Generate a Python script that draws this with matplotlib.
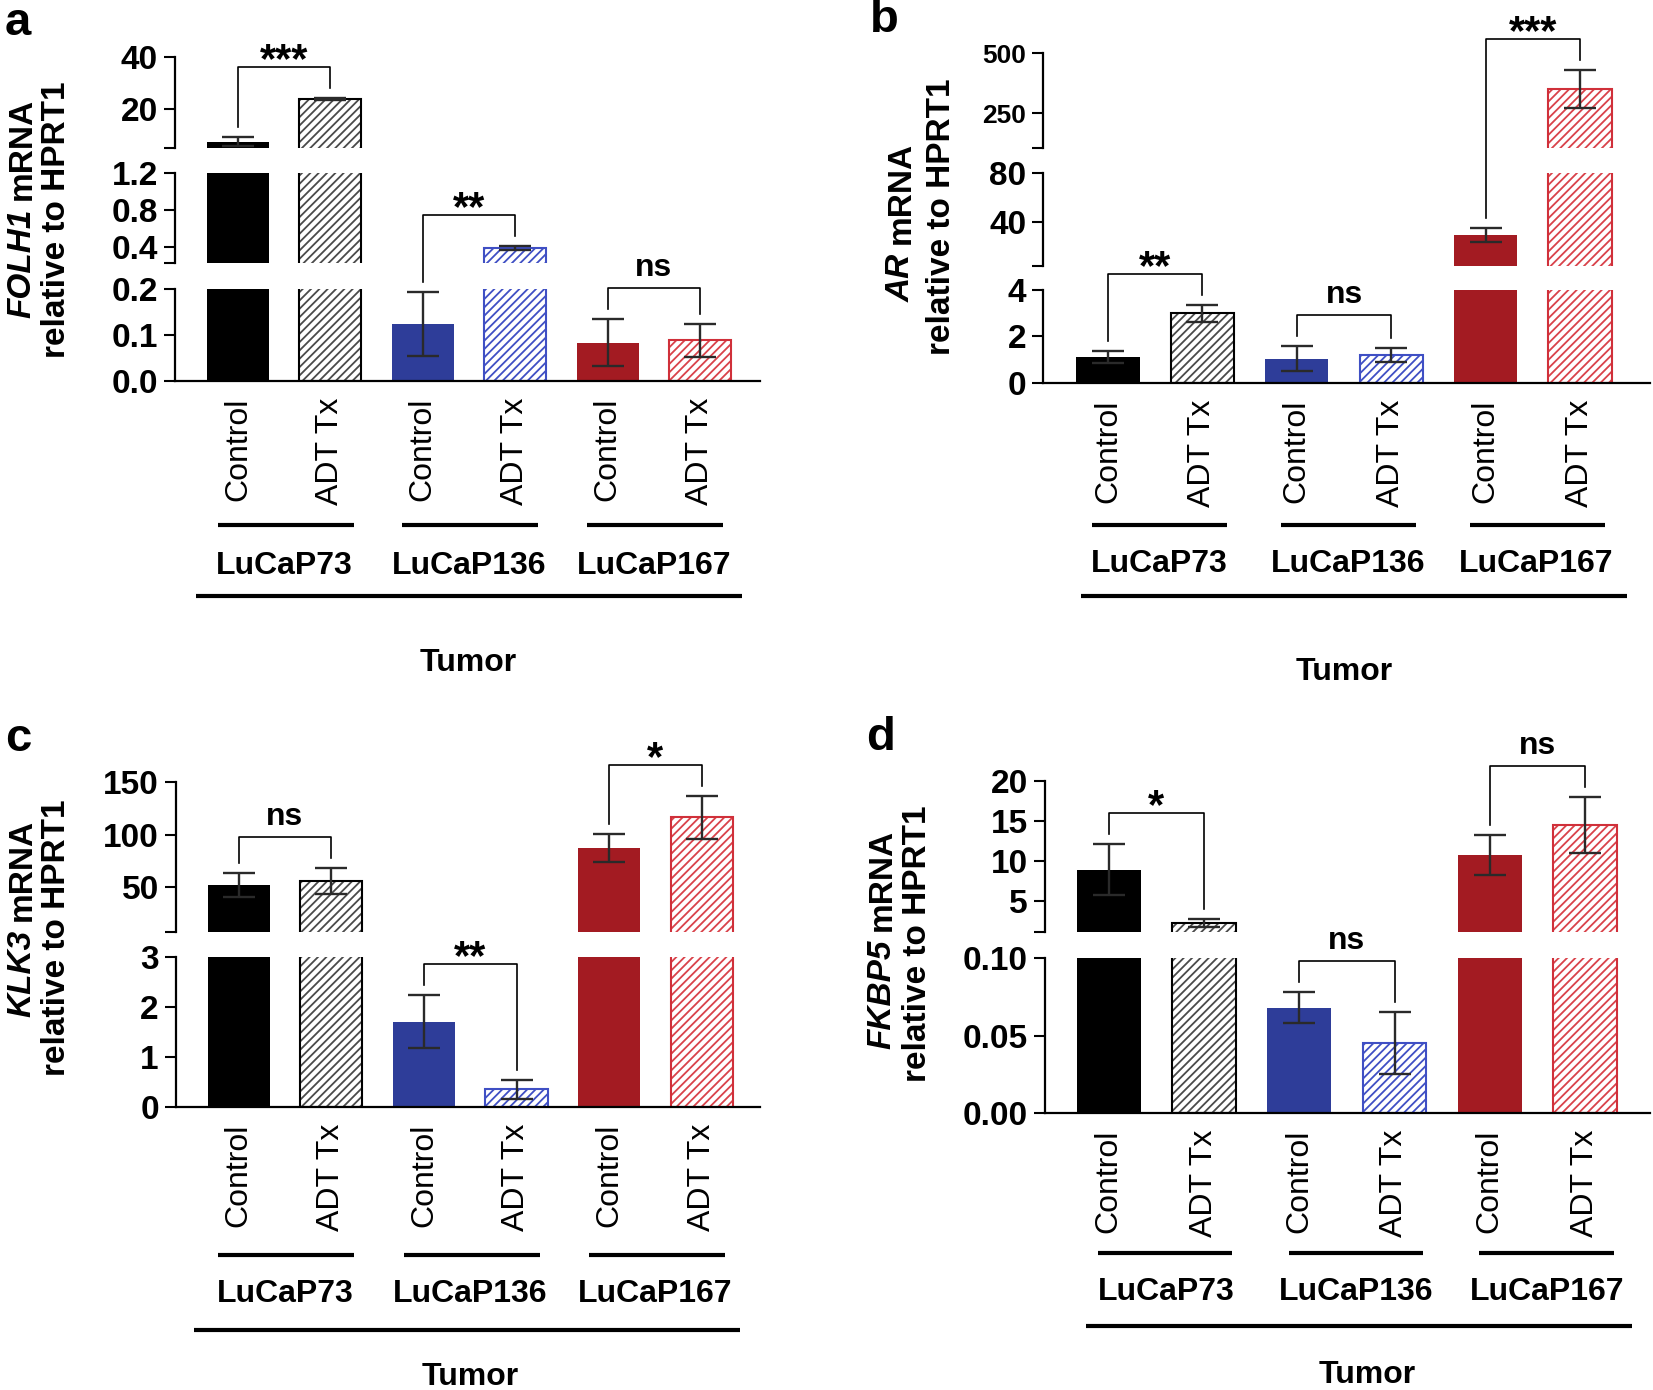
import numpy as np
import matplotlib
matplotlib.use('Agg')
import matplotlib.pyplot as plt
from matplotlib.lines import Line2D
from matplotlib.transforms import ScaledTranslation

plt.rcParams['font.family'] = ['Liberation Sans', 'DejaVu Sans']
plt.rcParams['hatch.linewidth'] = 1.3

# ---- data ----
conditions = ['Control', 'ADT Tx', 'Control', 'ADT Tx', 'Control', 'ADT Tx']
tumors = ['LuCaP73', 'LuCaP136', 'LuCaP167']

folh1_mean = [7.4, 23.9, 0.124, 0.39, 0.083, 0.088]
folh1_err = [1.9, 0.3, 0.07, 0.02, 0.051, 0.036]
folh1_sig = [(0, 1, '***'), (2, 3, '**'), (4, 5, 'ns')]

ar_mean = [1.12, 3.0, 1.03, 1.2, 29.0, 350.0]
ar_err = [0.26, 0.36, 0.54, 0.29, 6.0, 80.0]
ar_sig = [(0, 1, '**'), (2, 3, 'ns'), (4, 5, '***')]

klk3_mean = [51.6, 55.8, 1.71, 0.35, 87.4, 116.5]
klk3_err = [11.2, 12.5, 0.54, 0.19, 13.5, 20.5]
klk3_sig = [(0, 1, 'ns'), (2, 3, '**'), (4, 5, '*')]

fkbp5_mean = [8.9, 2.3, 0.068, 0.045, 10.7, 14.5]
fkbp5_err = [3.2, 0.5, 0.01, 0.02, 2.5, 3.5]
fkbp5_sig = [(0, 1, '*'), (2, 3, 'ns'), (4, 5, 'ns')]

# ---- style ----
solid = ['#000000', '#000000', '#2e3d99', '#2e3d99', '#a31b22', '#a31b22']
hatch_col = [None, '#4a4a4a', None, '#3f4fc4', None, '#d9424a']
edge_col = [None, '#000000', None, '#3f4fc4', None, '#d0303a']
BW = 0.67

W, H = 1653, 1390
fig = plt.figure(figsize=(W / 100, H / 100), dpi=100)


def rect(x0, x1, top, bot):
    return [x0 / W, 1 - bot / H, (x1 - x0) / W, (bot - top) / H]


def below(ax, dy):
    return ax.get_xaxis_transform() + ScaledTranslation(0, -dy / 100, fig.dpi_scale_trans)


def panel(means, errs, sig, segs, xlay, deco, letter, gene, ylab):
    c0, s, axx, right = xlay
    xlo, xhi = (axx - c0) / s, (right - c0) / s
    x = np.arange(6)
    axes = []
    for k, (top, bot, ymin, ymax, tks, tls, fs) in enumerate(segs):
        ax = fig.add_axes(rect(axx, right, top, bot))
        ax.set_xlim(xlo, xhi)
        ax.set_ylim(ymin, ymax)
        for i in range(6):
            if hatch_col[i] is None:
                ax.bar(x[i], means[i], width=BW, color=solid[i], linewidth=0)
            else:
                ax.bar(x[i], means[i], width=BW, color='white', edgecolor=hatch_col[i],
                       hatch='////', linewidth=0)
                if means[i] >= ymin:
                    ax.bar(x[i], means[i], width=BW, fill=False, edgecolor=edge_col[i],
                           linewidth=1.5)
            # error bar only in the segment holding the bar top
            if ymin <= means[i] <= ymax:
                ax.errorbar(x[i], means[i], yerr=errs[i], color='#2a2a2a', capsize=11.5,
                            elinewidth=1.7, capthick=1.7)
        ax.set_yticks(tks)
        ax.set_yticklabels(tls, fontsize=fs, fontweight='bold')
        ax.tick_params(axis='y', length=8, width=1.5, pad=4)
        ax.spines[['top', 'right']].set_visible(False)
        ax.spines['left'].set_linewidth(1.6)
        if k < len(segs) - 1:
            ax.spines['bottom'].set_visible(False)
            ax.set_xticks([])
        else:
            ax.spines['bottom'].set_linewidth(1.6)
            ax.set_xticks(x)
            ax.set_xticklabels(conditions, rotation=90, fontsize=23)
            ax.tick_params(axis='x', length=0, pad=12)
        axes.append(ax)

    ax = axes[-1]
    lo, hi, shift, line_dy, lab_dy, t_lo, t_hi, t_x, tline_dy, ttext_dy = deco
    for k in range(3):
        ax.plot([2 * k + lo, 2 * k + 1 + hi], [0, 0], transform=below(ax, line_dy),
                color='k', lw=3, clip_on=False, solid_capstyle='butt')
        ax.text(2 * k + 0.5 + shift, 0, tumors[k], transform=below(ax, lab_dy),
                ha='center', va='center', fontsize=23, fontweight='bold')
    ax.plot([t_lo, t_hi], [0, 0], transform=below(ax, tline_dy), color='k', lw=3,
            clip_on=False, solid_capstyle='butt')
    ax.text(t_x, 0, 'Tumor', transform=below(ax, ttext_dy), ha='center', va='center',
            fontsize=23, fontweight='bold')

    # significance brackets
    def top_px(k):
        v = means[k] + errs[k]
        a = axes[0]
        for a2, sg in zip(axes[::-1], segs[::-1]):
            if v <= sg[3]:
                a = a2
                break
        return a.transData.transform((k, v))

    inv = fig.transFigure.inverted()
    for i, j, txt in sig:
        pl, pr = top_px(i), top_px(j)
        yl, yr = pl[1] + 10, pr[1] + 10
        ytop = max(yl, yr) + 21
        pts = inv.transform([(pl[0], yl), (pl[0], ytop), (pr[0], ytop), (pr[0], yr)])
        fig.add_artist(Line2D(pts[:, 0], pts[:, 1], transform=fig.transFigure, color='k', lw=1.2))
        star = '*' in txt
        fig.text((pl[0] + pr[0]) / 2 / W, (ytop + (-5 if star else 12)) / H, txt,
                 ha='center', va='baseline', fontsize=30 if star else 23, fontweight='bold')

    # panel letter
    fig.text(letter[1] / W, 1 - letter[2] / H, letter[0], ha='center', va='center',
             fontsize=34, fontweight='bold')

    # y label: italic gene name + mRNA, second line
    x1, yc1, x2, yc2 = ylab
    fig.text(x2 / W, 1 - yc2 / H, 'relative to HPRT1', rotation=90, ha='center', va='center',
             fontsize=24, fontweight='bold')
    r = fig.canvas.get_renderer()
    t1 = fig.text(0, 0, gene, rotation=90, rotation_mode='anchor', ha='left', va='center',
                  fontsize=24, fontweight='bold', style='italic')
    t2 = fig.text(0, 0, 'mRNA', rotation=90, rotation_mode='anchor', ha='left', va='center',
                  fontsize=24, fontweight='bold')
    h1 = t1.get_window_extent(r).height
    h2 = t2.get_window_extent(r).height
    gap = 9
    y0 = (H - yc1) - (h1 + gap + h2) / 2
    t1.set_position((x1 / W, y0 / H))
    t2.set_position((x1 / W, (y0 + h1 + gap) / H))


# panel a
panel(folh1_mean, folh1_err, folh1_sig,
      [(57.3, 148.3, 4.8, 40, [4.8, 20, 40], ['', '20', '40'], 24),
       (173.3, 263.3, 0.227, 1.2, [0.227, 0.4, 0.8, 1.2], ['', '0.4', '0.8', '1.2'], 24),
       (289.3, 380.7, 0, 0.2, [0, 0.1, 0.2], ['0.0', '0.1', '0.2'], 24)],
      (238, 92.4, 174.5, 760),
      (-0.22, 0.25, 0.0, 144, 185, -0.45, 5.45, 2.49, 215, 282),
      ('a', 18, 23), 'FOLH1', (22, 208, 57, 220))

# panel b
panel(ar_mean, ar_err, ar_sig,
      [(53.3, 148.3, 104, 500, [104, 250, 500], ['', '250', '500'], 19),
       (172.7, 266, 3.8, 80, [3.8, 40, 80], ['', '40', '80'], 24),
       (290, 382.7, 0, 4, [0, 2, 4], ['0', '2', '4'], 24)],
      (1108, 94.4, 1043, 1650),
      (-0.17, 0.26, 0.04, 142, 181, -0.29, 5.5, 2.5, 213, 289),
      ('b', 884, 20), 'AR', (901, 222, 942, 217))

# panel c
panel(klk3_mean, klk3_err, klk3_sig,
      [(782.3, 931.7, 6.9, 150, [6.9, 50, 100, 150], ['', '50', '100', '150'], 24),
       (957.3, 1106.7, 0, 3, [0, 1, 2, 3], ['0', '1', '2', '3'], 24)],
      (238.7, 92.6, 175.5, 760),
      (-0.22, 0.25, 0.0, 148, 187, -0.48, 5.41, 2.5, 223, 270),
      ('c', 18, 739), 'KLK3', (22, 918, 57, 938))

# panel d
panel(fkbp5_mean, fkbp5_err, fkbp5_sig,
      [(780.7, 932.3, 1.1, 20, [1.1, 5, 10, 15, 20], ['', '5', '10', '15', '20'], 24),
       (958.3, 1113, 0, 0.1, [0, 0.05, 0.1], ['0.00', '0.05', '0.10'], 24)],
      (1108.6, 95.3, 1044.6, 1650),
      (-0.11, 0.3, 0.1, 140, 179, -0.24, 5.49, 2.71, 213, 262),
      ('d', 881, 738), 'FKBP5', (882, 939, 918, 944))

plt.savefig('out.png', dpi=100)
